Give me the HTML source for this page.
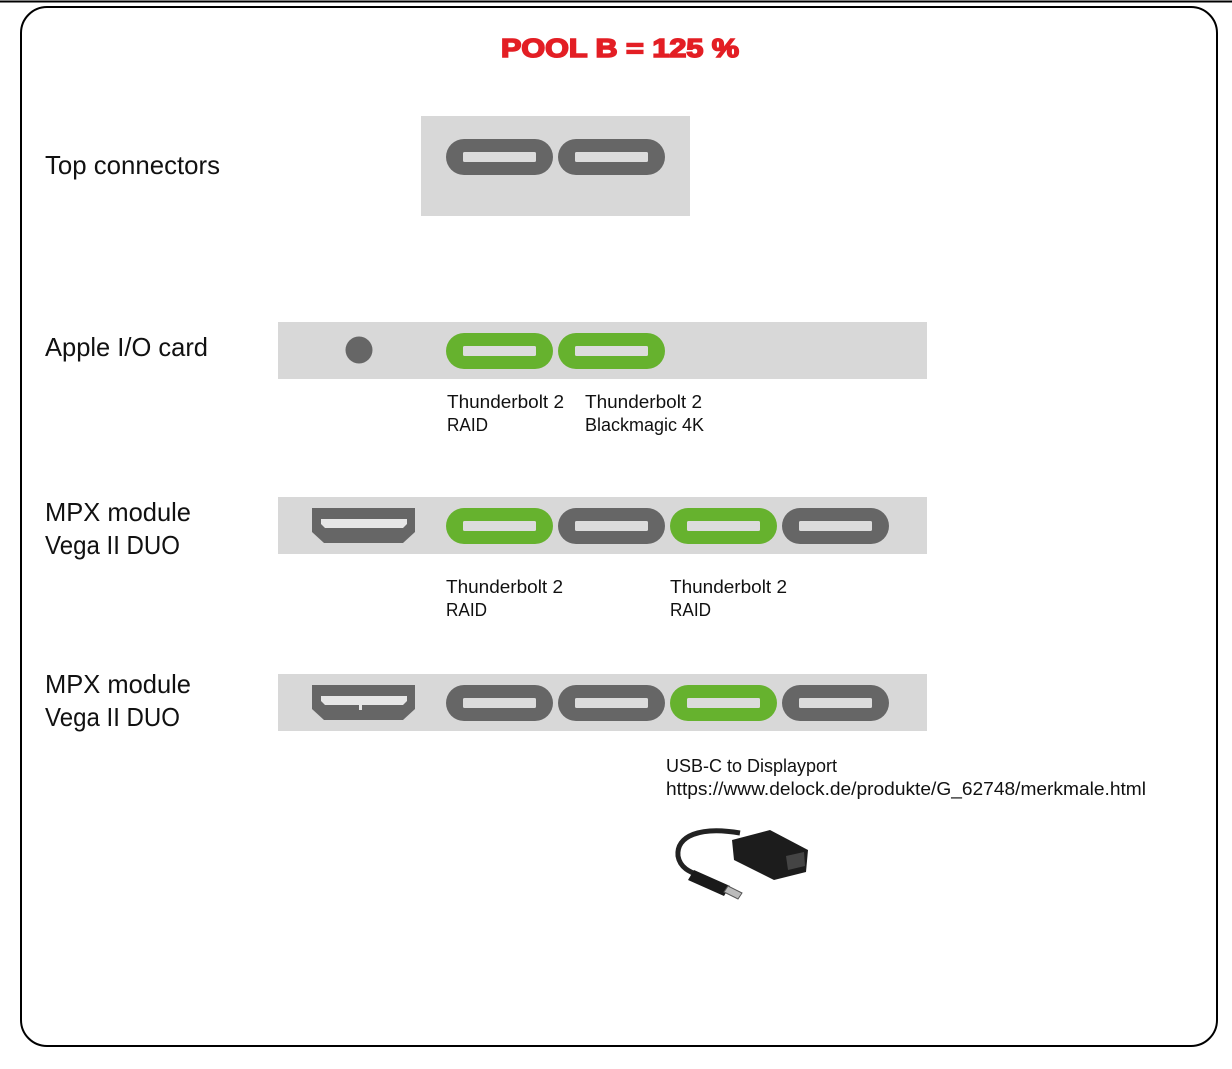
<!DOCTYPE html>
<html><head><meta charset="utf-8"><style>
html,body{margin:0;padding:0;background:#fff;}
svg{display:block;}
text{font-family:"Liberation Sans",sans-serif;fill:#111;}
</style></head><body>
<svg width="1232" height="1069" viewBox="0 0 1232 1069" xmlns="http://www.w3.org/2000/svg">
<defs>
<g id="pg"><rect x="0" y="0" width="107" height="36" rx="18" fill="#666"/><rect x="17" y="13" width="73" height="10" rx="1.5" fill="#dcdcdc"/></g>
<g id="pgr"><rect x="0" y="0" width="107" height="36" rx="18" fill="#66b22e"/><rect x="17" y="13" width="73" height="10" rx="1.5" fill="#dcdcdc"/></g>
<g id="hdmi"><path d="M0,0 H103 V24 L91,35 H12 L0,24 Z" fill="#666"/><path d="M9,11 H95 V16 L91,20 H13 L9,16 Z" fill="#e6e6e6"/></g>
</defs>
<line x1="0" y1="1.5" x2="1232" y2="1.5" stroke="#000" stroke-width="2"/>
<rect x="21" y="7" width="1196" height="1039" rx="26" fill="none" stroke="#000" stroke-width="2"/>
<text x="620" y="57" text-anchor="middle" font-size="26" font-weight="bold" style="fill:#e31e24;stroke:#e31e24;stroke-width:1.6" textLength="238" lengthAdjust="spacingAndGlyphs">POOL B = 125 %</text>

<text x="45" y="174" font-size="26" textLength="175" lengthAdjust="spacingAndGlyphs">Top connectors</text>
<rect x="421" y="116" width="269" height="100" fill="#d8d8d8"/>
<use href="#pg" x="446" y="139"/><use href="#pg" x="558" y="139"/>

<text x="45" y="356" font-size="26" textLength="163" lengthAdjust="spacingAndGlyphs">Apple I/O card</text>
<rect x="278" y="322" width="649" height="57" fill="#d8d8d8"/>
<circle cx="359" cy="350" r="13.5" fill="#666"/>
<use href="#pgr" x="446" y="333"/><use href="#pgr" x="558" y="333"/>
<text x="447" y="408" font-size="18" textLength="117" lengthAdjust="spacingAndGlyphs">Thunderbolt 2</text>
<text x="447" y="431" font-size="18" textLength="41" lengthAdjust="spacingAndGlyphs">RAID</text>
<text x="585" y="408" font-size="18" textLength="117" lengthAdjust="spacingAndGlyphs">Thunderbolt 2</text>
<text x="585" y="431" font-size="18" textLength="119" lengthAdjust="spacingAndGlyphs">Blackmagic 4K</text>

<text x="45" y="521" font-size="26" textLength="146" lengthAdjust="spacingAndGlyphs">MPX module</text>
<text x="45" y="554" font-size="26" textLength="135" lengthAdjust="spacingAndGlyphs">Vega II DUO</text>
<rect x="278" y="497" width="649" height="57" fill="#d8d8d8"/>
<use href="#hdmi" x="312" y="508"/>
<use href="#pgr" x="446" y="508"/><use href="#pg" x="558" y="508"/><use href="#pgr" x="670" y="508"/><use href="#pg" x="782" y="508"/>
<text x="446" y="593" font-size="18" textLength="117" lengthAdjust="spacingAndGlyphs">Thunderbolt 2</text>
<text x="446" y="616" font-size="18" textLength="41" lengthAdjust="spacingAndGlyphs">RAID</text>
<text x="670" y="593" font-size="18" textLength="117" lengthAdjust="spacingAndGlyphs">Thunderbolt 2</text>
<text x="670" y="616" font-size="18" textLength="41" lengthAdjust="spacingAndGlyphs">RAID</text>

<text x="45" y="693" font-size="26" textLength="146" lengthAdjust="spacingAndGlyphs">MPX module</text>
<text x="45" y="726" font-size="26" textLength="135" lengthAdjust="spacingAndGlyphs">Vega II DUO</text>
<rect x="278" y="674" width="649" height="57" fill="#d8d8d8"/>
<use href="#hdmi" x="312" y="685"/>
<rect x="359" y="704" width="3" height="6" fill="#e6e6e6"/>
<use href="#pg" x="446" y="685"/><use href="#pg" x="558" y="685"/><use href="#pgr" x="670" y="685"/><use href="#pg" x="782" y="685"/>

<text x="666" y="772" font-size="18" textLength="171" lengthAdjust="spacingAndGlyphs">USB-C to Displayport</text>
<text x="666" y="795" font-size="18" textLength="480" lengthAdjust="spacingAndGlyphs">https://www.delock.de/produkte/G_62748/merkmale.html</text>

<path d="M740,833 C700,826 676,836 678,856 C680,868 690,872 700,876" fill="none" stroke="#222" stroke-width="5"/>
<path d="M694,870 L730,886 L724,896 L688,880 Z" fill="#1a1a1a"/>
<path d="M728,886 L742,893 L738,899 L724,892 Z" fill="#bbb" stroke="#555" stroke-width="1"/>
<path d="M732,840 L770,830 L808,850 L806,872 L774,880 L734,860 Z" fill="#1c1c1c"/>
<path d="M786,856 L804,852 L805,866 L788,870 Z" fill="#444"/>
</svg>
</body></html>
